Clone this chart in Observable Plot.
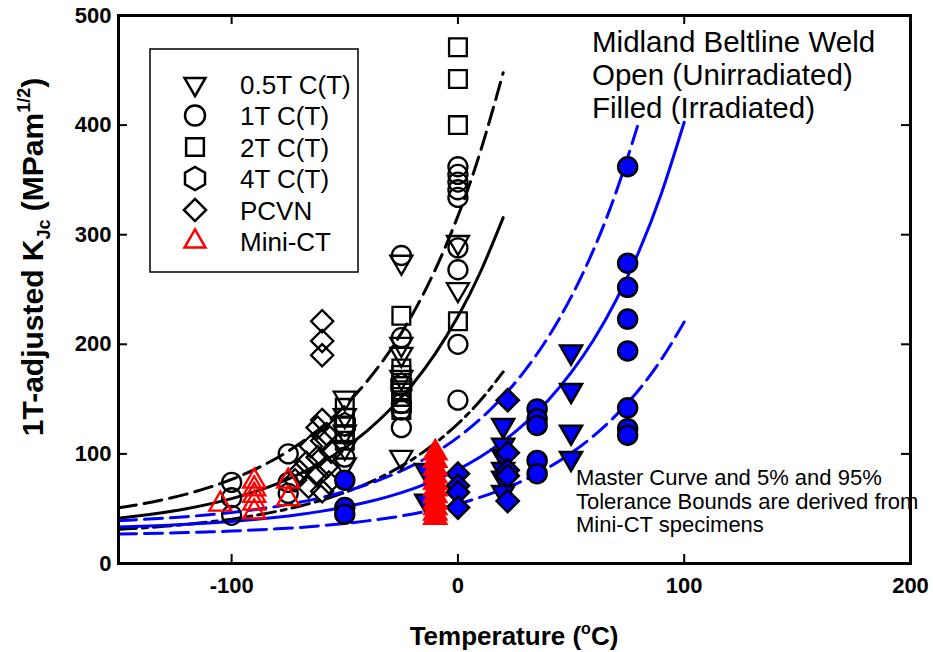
<!DOCTYPE html>
<html><head><meta charset="utf-8">
<script src="https://cdn.jsdelivr.net/npm/d3@7"></script>
<script src="https://cdn.jsdelivr.net/npm/@observablehq/plot@0.6"></script>
<style>
body{margin:0;background:#fff;}
#chart{position:relative;width:933px;height:652px;}
</style></head><body><div id="chart"></div>
<script>
// ---------- axis ticks ----------
const xTicks = [-100, 0, 100, 200];
const yTicks = [0, 100, 200, 300, 400, 500];

// ---------- master curves ----------
const unirrCurveT = [-150,-140,-130,-120,-110,-100,-90,-80,-70,-60,-50,-40,-30,-20,-10,0,10,20];
const unirrMedian = [41.3,43.7,46.5,50.0,54.2,59.2,65.3,72.7,81.7,92.5,105.5,121.3,140.5,163.6,191.5,225.3,266.2,315.6];
const unirrUpper  = [50.8,54.2,58.4,63.3,69.4,76.7,85.6,96.3,109.2,124.8,143.8,166.7,194.3,227.7,268.2,317.1,376.3,447.8];
const unirrLower  = [31.2,32.4,33.9,35.7,37.9,40.5,43.7,47.6,52.3,57.9,64.8,73.1,83.1,95.2,109.8,127.5,148.9,174.8];

const irrCurveT = [-150,-140,-130,-120,-110,-100,-90,-80,-70,-60,-50,-40,-30,-20,-10,0,10,20,30,40,50,60,70,80,90,100];
const irrMedian = [33.2,33.9,34.7,35.7,36.9,38.3,40.1,42.2,44.7,47.8,51.6,56.1,61.5,68.1,76.1,85.7,97.4,111.5,128.6,149.1,174.1,204.2,240.7,284.8,338.1,402.6];
const irrUpperT = [-150,-140,-130,-120,-110,-100,-90,-80,-70,-60,-50,-40,-30,-20,-10,0,10,20,30,40,50,60,70,80];
const irrUpper  = [39.1,40.1,41.3,42.7,44.5,46.5,49.1,52.1,55.8,60.3,65.7,72.2,80.1,89.6,101.1,115.1,132.0,152.4,177.1,206.9,243.0,286.6,339.4,403.2];
const irrLower  = [26.9,27.3,27.7,28.2,28.9,29.6,30.5,31.6,32.9,34.6,36.5,38.9,41.7,45.2,49.4,54.4,60.5,67.9,76.8,87.6,100.7,116.5,135.6,158.6,186.5,220.3];

// ---------- unirradiated data (open) [T, KJc] ----------
const u05T = [[-50,151],[-50,135],[-50,120],[-50,106],[-50,90],[-25,275],[-25,200],[-25,191],[-25,170],[-25,97],[0,293],[0,250]];
const u1T  = [[-100,74],[-100,60],[-100,44],[-75,100],[-75,74],[-75,64],[-50,97],[-25,281],[-25,206],[-25,146],[-25,140],[-25,124],
              [0,362],[0,355],[0,348],[0,341],[0,334],[0,288],[0,268],[0,200],[0,149]];
const u2T  = [[0,471],[0,442],[0,400],[0,221],[-25,226],[-25,178],[-25,172],[-25,165],[-25,158],[-25,152],[-25,146],[-25,140],
              [-50,142],[-50,133],[-50,125],[-50,118],[-50,112]];
const u4T  = [[-25,163],[-50,127]];
const uPCVN = [[-60,221],[-60,203],[-60,190],[-60,131],[-62,124],[-58,118],[-60,112],[-65,107],[-56,102],[-62,97],[-67,92],
               [-58,88],[-70,84],[-62,80],[-72,76],[-57,74],[-66,70],[-60,66]];
const uMiniCT = [[-105,54],[-90,75],[-90,68],[-90,62],[-90,55],[-90,47],[-75,75],[-75,59]];

// ---------- irradiated data (filled) [T, KJc] ----------
const i05T = [[-14,85],[-14,57],[20,126],[20,108],[20,98],[20,86],[20,78],[20,65],[50,193],[50,158],[50,120],[50,96]];
const i1T  = [[-50,76],[-50,51],[-50,45],[35,141],[35,132],[35,126],[35,94],[35,82],
              [75,362],[75,274],[75,252],[75,223],[75,194],[75,142],[75,123],[75,117]];
const iPCVN = [[0,82],[0,71],[0,65],[0,51],[22,149],[22,101],[22,85],[22,80],[22,57]];
const iMiniCT = [[-10,101],[-10,94],[-10,87],[-10,80],[-10,74],[-10,68],[-10,62],[-10,56],[-10,51],[-10,46],[-10,42]];

// ---------- helpers ----------
const FONT = '"Liberation Sans", Arial, Helvetica, sans-serif';
const rows = (ts, ks) => ts.map((t, i) => ({T: t, K: ks[i]}));
const pts = a => a.map(([T, K]) => ({T, K}));
const triDown = {draw(ctx, size){const s=Math.sqrt(size)*0.6824,t=s/2,u=s*Math.sqrt(3)/2;ctx.moveTo(0,s);ctx.lineTo(u,-t);ctx.lineTo(-u,-t);ctx.closePath();}};
const hexagon = {draw(ctx, size){const rx=Math.sqrt(size/Math.PI),ry=rx*Math.sqrt(4/3),hy=ry/2;ctx.moveTo(0,ry);ctx.lineTo(rx,hy);ctx.lineTo(rx,-hy);ctx.lineTo(0,-ry);ctx.lineTo(-rx,-hy);ctx.lineTo(-rx,hy);ctx.closePath();}};

const W = 933, H = 652, mL = 118, mR = 23, mT = 15, mB = 89;
const pw = W - mL - mR, ph = H - mT - mB;
const BLUE = "#0000ff", RED = "#ff0000";
const sizeFor = sym => sym === "circle" ? 9.5 : (sym === triDown || sym === "triangle2") ? 10.5 : sym === "square" ? 10 : 10;

const openDot = (data, symbol, color = "black") =>
  Plot.dot(pts(data), {x: "T", y: "K", symbol, r: sizeFor(symbol), fill: "none", stroke: color, strokeWidth: 2.3});
const fillDot = (data, symbol, fill, stroke = "black") =>
  Plot.dot(pts(data), {x: "T", y: "K", symbol, r: sizeFor(symbol), fill, stroke, strokeWidth: 2.5});
const curve = (ts, ks, stroke, dash) =>
  Plot.line(rows(ts, ks), {x: "T", y: "K", stroke, strokeWidth: 3, curve: "natural", strokeDasharray: dash});

const svg = Plot.plot({
  width: W, height: H, marginLeft: mL, marginRight: mR, marginTop: mT, marginBottom: mB,
  style: {fontFamily: FONT, background: "white", color: "black"},
  x: {domain: [-150, 200]},
  y: {domain: [0, 500]},
  marks: [
    Plot.axisX({ticks: xTicks, tickSize: 0, tickPadding: 14, tickFormat: d => String(d), fontSize: 22, fontWeight: "bold", label: null}),
    Plot.axisY({ticks: yTicks, tickSize: 0, tickPadding: 7, tickFormat: d => String(d), fontSize: 22, fontWeight: "bold", label: null}),
    Plot.tickX(xTicks, {x: d => d, insetTop: ph - 9, strokeWidth: 2}),
    Plot.tickX(xTicks, {x: d => d, insetBottom: ph - 9, strokeWidth: 2}),
    Plot.tickY(yTicks, {y: d => d, insetRight: pw - 9, strokeWidth: 2}),
    Plot.tickY(yTicks, {y: d => d, insetLeft: pw - 9, strokeWidth: 2}),
    curve(unirrCurveT, unirrLower, "black", "18,6,5,6"),
    curve(unirrCurveT, unirrUpper, "black", "18,8"),
    curve(unirrCurveT, unirrMedian, "black", null),
    curve(irrCurveT, irrLower, BLUE, "18,8"),
    curve(irrUpperT, irrUpper, BLUE, "18,8"),
    curve(irrCurveT, irrMedian, BLUE, null),
    openDot(uPCVN, "diamond2"),
    openDot(u4T, hexagon),
    openDot(u2T, "square"),
    openDot(u1T, "circle"),
    openDot(u05T, triDown),
    openDot(uMiniCT, "triangle2", RED),
    fillDot(i05T, triDown, BLUE),
    fillDot(i1T, "circle", BLUE),
    fillDot(iPCVN, "diamond2", BLUE),
    fillDot(iMiniCT, "triangle2", RED, RED),
    Plot.frame({stroke: "black", strokeWidth: 3})
  ]
});
document.getElementById("chart").appendChild(svg);

// ---------- labels, legend, annotations ----------
const s = d3.select(svg);
const yl = s.append("text").attr("transform", "translate(43,257) rotate(-90)").attr("text-anchor", "middle")
  .attr("font-weight", "bold").attr("font-size", 30).attr("font-family", FONT);
yl.append("tspan").text("1T-adjusted K");
yl.append("tspan").attr("font-size", 18).attr("dy", 7).text("Jc");
yl.append("tspan").attr("dy", -7).text(" (MPam");
yl.append("tspan").attr("font-size", 18).attr("dy", -13).text("1/2");
yl.append("tspan").attr("dy", 13).text(")");

const xl = s.append("text").attr("x", 514).attr("y", 645).attr("text-anchor", "middle")
  .attr("font-weight", "bold").attr("font-size", 26).attr("font-family", FONT);
xl.append("tspan").text("Temperature (");
xl.append("tspan").attr("font-size", 16).attr("dy", -11).text("o");
xl.append("tspan").attr("dy", 11).text("C)");

const titleLines = ["Midland Beltline Weld", "Open (Unirradiated)", "Filled (Irradiated)"];
titleLines.forEach((t, i) => s.append("text").attr("x", 592).attr("y", 52 + i * 33).attr("text-anchor", "start")
  .attr("font-size", 29.5).attr("font-family", FONT).text(t));

const noteLines = ["Master Curve and 5% and 95%", "Tolerance Bounds are derived from", "Mini-CT specimens"];
noteLines.forEach((t, i) => s.append("text").attr("x", 576).attr("y", 485 + i * 23.5).attr("text-anchor", "start")
  .attr("font-size", 22).attr("font-family", FONT).text(t));

const legendItems = [
  {label: "0.5T C(T)", type: triDown, color: "black"},
  {label: "1T C(T)", type: d3.symbolCircle, color: "black"},
  {label: "2T C(T)", type: d3.symbolSquare, color: "black"},
  {label: "4T C(T)", type: hexagon, color: "black"},
  {label: "PCVN", type: d3.symbolDiamond2, color: "black"},
  {label: "Mini-CT", type: d3.symbolTriangle2, color: RED}
];
const lg = s.append("g");
lg.append("rect").attr("x", 150).attr("y", 49).attr("width", 208).attr("height", 223)
  .attr("fill", "white").attr("stroke", "black").attr("stroke-width", 1.5);
legendItems.forEach((d, i) => {
  const cy = 84 + i * 31.5;
  lg.append("path").attr("transform", `translate(195,${cy})`)
    .attr("d", d3.symbol().type(d.type).size(Math.PI * 100)())
    .attr("fill", "none").attr("stroke", d.color).attr("stroke-width", 2.5);
  lg.append("text").attr("x", 240).attr("y", cy + 9.5).attr("text-anchor", "start")
    .attr("font-size", 26).attr("font-family", FONT).text(d.label);
});
</script></body></html>
